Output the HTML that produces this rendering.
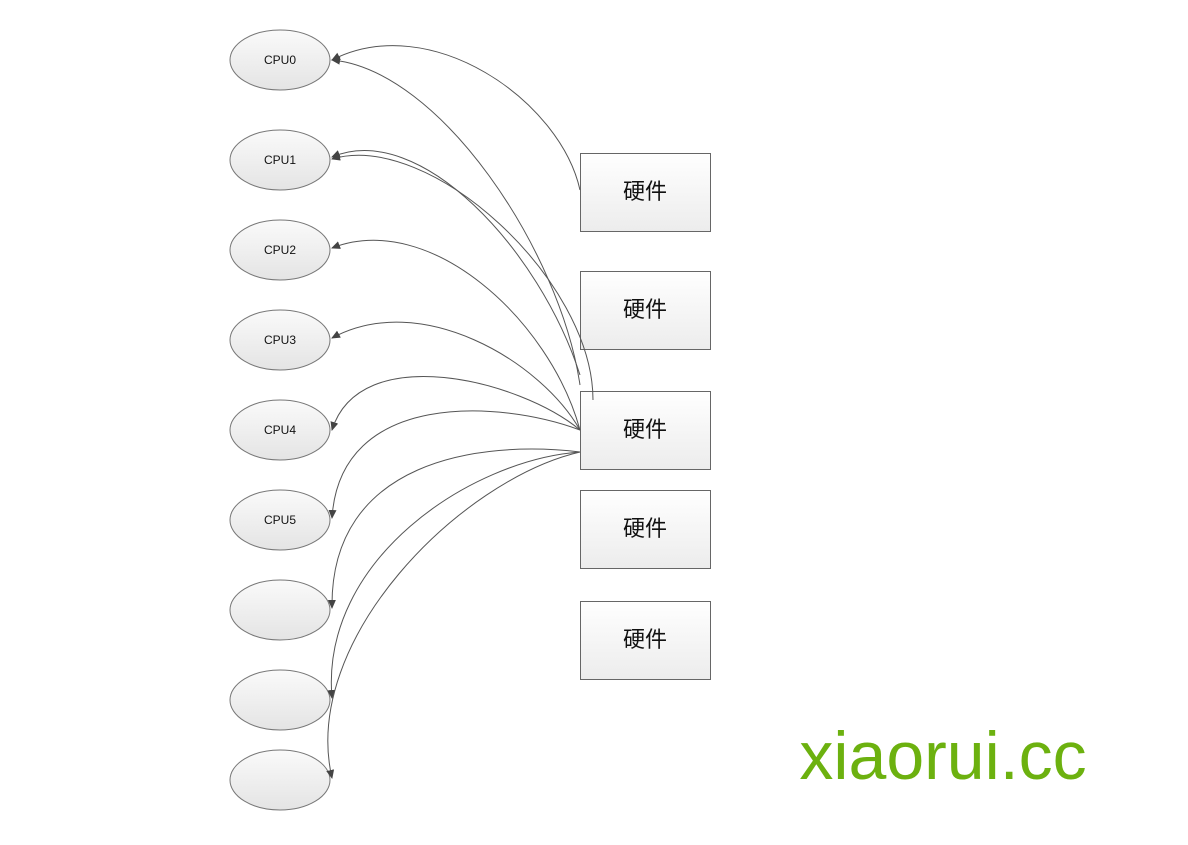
<!DOCTYPE html>
<html><head><meta charset="utf-8"><style>
body{margin:0;background:#fff;width:1188px;height:840px;overflow:hidden}
</style></head><body>
<svg width="1188" height="840" xmlns="http://www.w3.org/2000/svg">
<defs>
<linearGradient id="eg" x1="0" y1="0" x2="0" y2="1"><stop offset="0" stop-color="#fafafa"/><stop offset="1" stop-color="#e4e4e4"/></linearGradient>
<linearGradient id="bg" x1="0" y1="0" x2="0" y2="1"><stop offset="0" stop-color="#ffffff"/><stop offset="1" stop-color="#ececec"/></linearGradient>
<marker id="a" markerWidth="10" markerHeight="10" refX="8" refY="4" orient="auto" markerUnits="userSpaceOnUse"><path d="M0,0 L9,4 L0,8 z" fill="#444"/></marker>
</defs>
<g fill="url(#eg)" stroke="#777" stroke-width="1">
<ellipse cx="280" cy="60" rx="50" ry="30"/>
<ellipse cx="280" cy="160" rx="50" ry="30"/>
<ellipse cx="280" cy="250" rx="50" ry="30"/>
<ellipse cx="280" cy="340" rx="50" ry="30"/>
<ellipse cx="280" cy="430" rx="50" ry="30"/>
<ellipse cx="280" cy="520" rx="50" ry="30"/>
<ellipse cx="280" cy="610" rx="50" ry="30"/>
<ellipse cx="280" cy="700" rx="50" ry="30"/>
<ellipse cx="280" cy="780" rx="50" ry="30"/>
</g>
<g font-family="Liberation Sans, sans-serif" font-size="12" text-anchor="middle" fill="#111">
<text x="280" y="64">CPU0</text><text x="280" y="164">CPU1</text><text x="280" y="254">CPU2</text>
<text x="280" y="344">CPU3</text><text x="280" y="434">CPU4</text><text x="280" y="524">CPU5</text>
</g>
<g fill="url(#bg)" stroke="#666">
<rect x="580.5" y="153.5" width="130" height="78"/>
<rect x="580.5" y="271.5" width="130" height="78"/>
<rect x="580.5" y="391.5" width="130" height="78"/>
<rect x="580.5" y="490.5" width="130" height="78"/>
<rect x="580.5" y="601.5" width="130" height="78"/>
</g>
<g font-family="Liberation Sans, Noto Sans CJK SC, sans-serif" font-size="22" text-anchor="middle" fill="#111">
<text x="645" y="199">硬件</text><text x="645" y="317">硬件</text><text x="645" y="437">硬件</text>
<text x="645" y="536">硬件</text><text x="645" y="647">硬件</text>
</g>
<g fill="none" stroke="#555" stroke-width="1" marker-end="url(#a)">
<path d="M580,190 C560,100 430,10 332,60"/>
<path d="M580,385 C560,250 440,70 332,60"/>
<path d="M580,375 C540,250 420,120 332,157"/>
<path d="M593,400 C593,280 430,130 332,159"/>
<path d="M580,430 C550,320 430,210 332,248"/>
<path d="M580,430 C540,360 420,290 332,338"/>
<path d="M580,430 C520,380 360,340 332,430"/>
<path d="M580,430 C500,400 340,390 332,518"/>
<path d="M580,452 C480,440 330,460 332,608"/>
<path d="M580,452 C470,460 320,560 332,698"/>
<path d="M580,452 C460,480 300,640 332,778"/>
</g>
<text x="943" y="779" font-family="Liberation Sans, sans-serif" font-size="68" fill="#6cb10f" text-anchor="middle">xiaorui.cc</text>
</svg>
</body></html>
